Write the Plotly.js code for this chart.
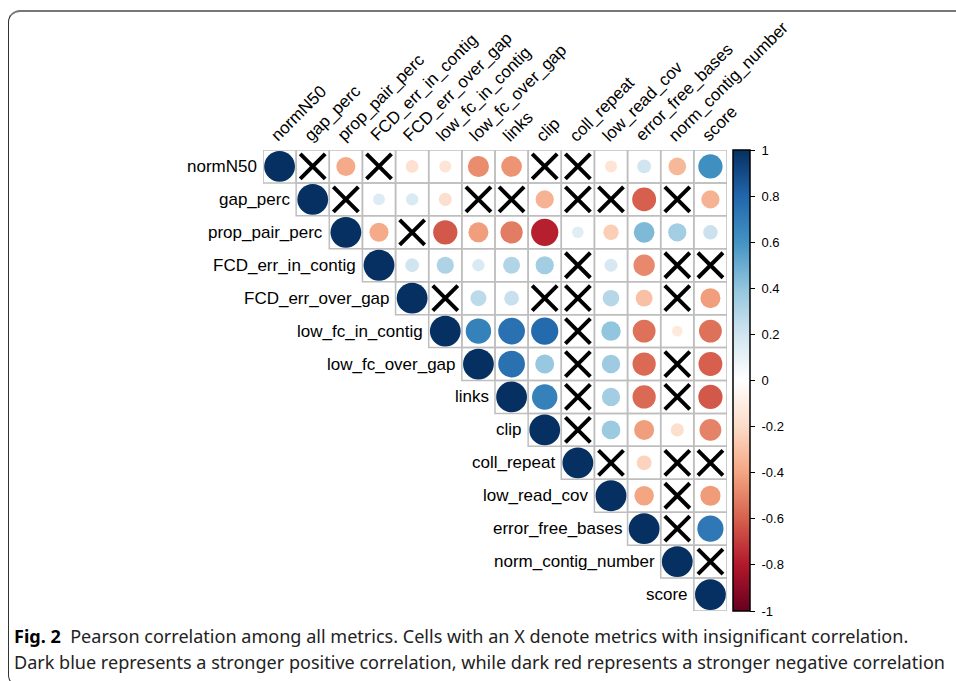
<!DOCTYPE html>
<html><head><meta charset="utf-8">
<script src="https://cdn.plot.ly/plotly-3.0.1.min.js"></script>
<style>
html,body{margin:0;padding:0;background:#fff;width:956px;height:681px;overflow:hidden;}
#frame{position:absolute;left:8px;top:10px;width:1000px;height:674px;border-top:2px solid #777;border-left:1.5px solid #333;border-bottom:1.5px solid #333;border-top-left-radius:12px;border-bottom-left-radius:12px;}
#chart{position:absolute;left:0;top:0;width:956px;height:681px;}
.cap{position:absolute;left:14px;font-family:"Noto Sans","Open Sans",sans-serif;font-size:18px;color:#222;white-space:nowrap;line-height:1;}
.cap b{color:#000;}
</style></head><body>
<div id="frame"></div>
<div id="chart"></div>
<div class="cap" id="cap1" style="top:627px"><b>Fig. 2</b>&nbsp; Pearson correlation among all metrics. Cells with an X denote metrics with insignificant correlation.</div>
<div class="cap" id="cap2" style="top:653px">Dark blue represents a stronger positive correlation, while dark red represents a stronger negative correlation</div>
<script>
// ---- data ----
const labels = ['normN50','gap_perc','prop_pair_perc','FCD_err_in_contig','FCD_err_over_gap','low_fc_in_contig','low_fc_over_gap','links','clip','coll_repeat','low_read_cov','error_free_bases','norm_contig_number','score'];
// upper-triangle rows (from the diagonal to the right); null = insignificant (X)
const r_normN50       = [1, null, -0.38, null, -0.17, -0.15, -0.47, -0.45, null, null, -0.15, 0.2, -0.33, 0.62];
const r_gap_perc      = [1, null, 0.15, 0.16, -0.18, null, null, -0.35, null, null, -0.6, null, -0.35];
const r_prop_pair     = [1, -0.38, null, -0.62, -0.42, -0.52, -0.78, 0.14, -0.25, 0.45, 0.35, 0.22];
const r_fcd_in        = [1, 0.2, 0.31, 0.16, 0.3, 0.35, null, 0.18, -0.48, null, null];
const r_fcd_over      = [1, null, 0.27, 0.23, null, null, 0.29, -0.3, null, -0.42];
const r_low_fc_in     = [1, 0.68, 0.75, 0.78, null, 0.4, -0.55, -0.12, -0.55];
const r_low_fc_over   = [1, 0.75, 0.38, null, 0.36, -0.57, null, -0.6];
const r_links         = [1, 0.68, null, 0.35, -0.57, null, -0.62];
const r_clip          = [1, null, 0.37, -0.42, -0.18, -0.5];
const r_coll_repeat   = [1, null, -0.23, null, null];
const r_low_read_cov  = [1, -0.4, null, -0.43];
const r_error_free    = [1, null, 0.72];
const r_norm_contig   = [1, null];
const r_score         = [1];
const rows = [r_normN50, r_gap_perc, r_prop_pair, r_fcd_in, r_fcd_over, r_low_fc_in, r_low_fc_over, r_links, r_clip, r_coll_repeat, r_low_read_cov, r_error_free, r_norm_contig, r_score];
const cbTickVals = [-1,-0.8,-0.6,-0.4,-0.2,0,0.2,0.4,0.6,0.8,1];
const cbTickText = ['-1','-0.8','-0.6','-0.4','-0.2','0','0.2','0.4','0.6','0.8','1'];
const rdbu = ['#67001F','#B2182B','#D6604D','#F4A582','#FDDBC7','#FFFFFF','#D1E5F0','#92C5DE','#4393C3','#2166AC','#053061'];

// ---- layout geometry ----
const W = 956, H = 681;
const M = {l: 263, r: 229, t: 150, b: 70};
const n = labels.length;
const cellPx = (W - M.l - M.r) / n;

const cx = [], cy = [], cv = [], cs = [];
const xx = [], xy = [];
const shapes = [];
rows.forEach((row, i) => {
  row.forEach((v, k) => {
    const j = i + k;
    shapes.push({type: 'rect', xref: 'x', yref: 'y', x0: j + 0.5, x1: j + 1.5, y0: i + 0.5, y1: i + 1.5,
      line: {color: '#BEBEBE', width: 1.5}, fillcolor: 'rgba(0,0,0,0)', layer: 'below'});
    if (v === null) { xx.push(j + 1); xy.push(i + 1); }
    else { cx.push(j + 1); cy.push(i + 1); cv.push(v); cs.push(0.93 * Math.sqrt(Math.abs(v)) * cellPx); }
  });
});

const colorscale = rdbu.map((c, k) => [k / (rdbu.length - 1), c]);

const circles = {
  type: 'scatter', mode: 'markers', x: cx, y: cy, hoverinfo: 'skip',
  marker: {size: cs, color: cv, cmin: -1, cmax: 1, colorscale: colorscale, line: {width: 0}, opacity: 1,
    showscale: true,
    colorbar: {x: 1 + 6 / (W - M.l - M.r), xanchor: 'left', xpad: 0, ypad: 0, y: 0.5, yanchor: 'middle',
      lenmode: 'pixels', len: (H - M.t - M.b), thickness: 17, thicknessmode: 'pixels',
      outlinewidth: 1.5, outlinecolor: '#000', borderwidth: 0,
      tickmode: 'array', tickvals: cbTickVals, ticktext: cbTickText.map(t => '\u00A0' + t),
      ticks: 'outside', ticklen: 5, tickwidth: 1, tickcolor: '#000',
      tickfont: {family: 'Liberation Sans, Arial, sans-serif', size: 13, color: '#000'}}}
};
const crosses = {
  type: 'scatter', mode: 'markers', x: xx, y: xy, hoverinfo: 'skip',
  marker: {symbol: 'x-thin', size: 25, opacity: 1, line: {width: 4, color: '#000'}, color: '#000'}
};

const annotations = [];
const lblFont = {family: 'Liberation Sans, Arial, sans-serif', size: 17, color: '#000'};
labels.forEach((lab, i) => {
  annotations.push({xref: 'x', yref: 'y', x: i + 0.5, y: i + 1, text: lab, showarrow: false,
    xanchor: 'right', yanchor: 'middle', xshift: -4, font: lblFont});
  annotations.push({xref: 'x', yref: 'y', x: i + 1, y: 0.5, text: lab, showarrow: false, textangle: -45,
    xanchor: 'left', yanchor: 'bottom', xshift: -15, yshift: 2, font: lblFont});
});

const layout = {
  width: W, height: H, margin: M, showlegend: false,
  paper_bgcolor: 'rgba(0,0,0,0)', plot_bgcolor: 'rgba(0,0,0,0)',
  xaxis: {range: [0.5, n + 0.5], visible: false, fixedrange: true},
  yaxis: {range: [n + 0.5, 0.5], visible: false, fixedrange: true},
  shapes: shapes, annotations: annotations
};
Plotly.newPlot('chart', [circles, crosses], layout, {displayModeBar: false, staticPlot: true});

// fit the caption's second line to the reference width
const cap2 = document.getElementById('cap2');
const target = 932;
const fs = 18 * target / cap2.getBoundingClientRect().width;
document.getElementById('cap1').style.fontSize = fs + 'px';
cap2.style.fontSize = fs + 'px';
</script>
</body></html>
